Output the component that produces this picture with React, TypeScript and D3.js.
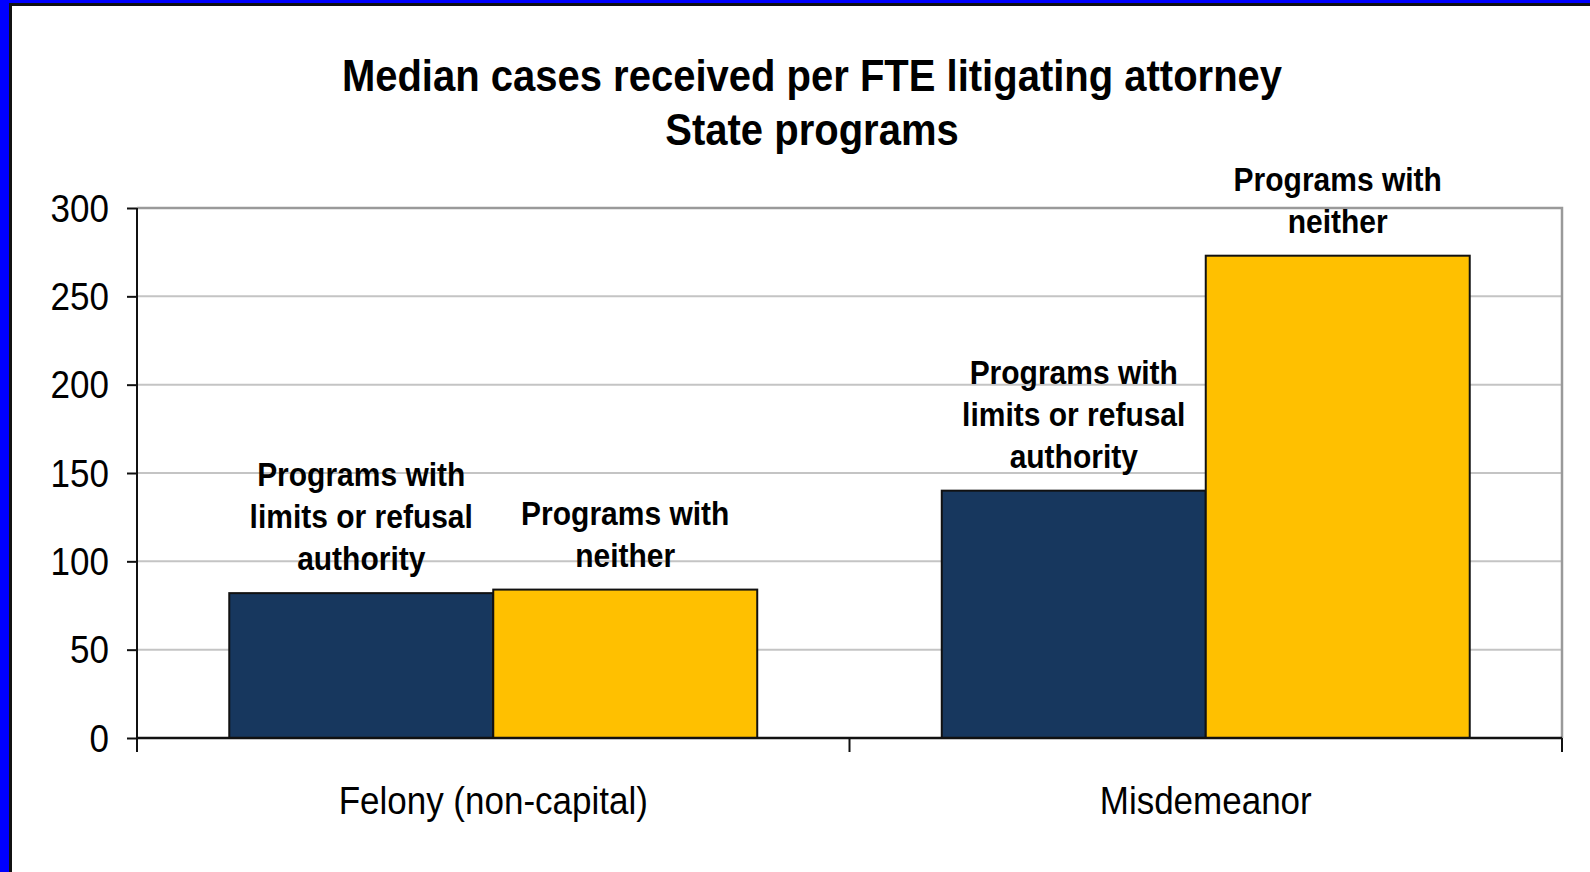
import React, { useEffect, useRef } from 'react';
import * as d3 from 'd3';

const categories = ['Felony (non-capital)', 'Misdemeanor'];
const seriesNames = ['limits', 'neither'];
const limitsValues = [82, 140];
const neitherValues = [84, 273];
const barLabels = [
    ['Programs with', 'limits or refusal', 'authority'],
    ['Programs with', 'neither']
];
const yTicks = [0, 50, 100, 150, 200, 250, 300];
const titleLines = ['Median cases received per FTE litigating  attorney', 'State programs'];

const colors = ['#17375e', '#ffc000'];

// the original picture is stretched vertically, so squeeze text horizontally
const STRETCH = 1.12;
const squeeze = (sel) => {
    sel.each(function () {
        const w = this.getComputedTextLength();
        d3.select(this).attr('textLength', w / STRETCH).attr('lengthAdjust', 'spacingAndGlyphs');
    });
};

export default function App() {
    const ref = useRef(null);

    useEffect(() => {
        if (!ref.current) return;
        d3.select(ref.current).selectAll('*').remove();

        const W = 1590, H = 872;
        const left = 137, right = 1562, top = 208, bottom = 738;

        const svg = d3.select(ref.current)
            .append('svg')
            .attr('width', W)
            .attr('height', H)
            .style('position', 'absolute')
            .style('left', 0)
            .style('top', 0)
            .style('font-family', "'Liberation Sans', Arial, sans-serif");

        svg.append('rect').attr('width', W).attr('height', H).attr('fill', '#fff');

        // frame (blue + dark line on left and top)
        svg.append('rect').attr('x', 0).attr('y', 0).attr('width', 9).attr('height', H).attr('fill', '#0000ff');
        svg.append('rect').attr('x', 0).attr('y', 0).attr('width', W).attr('height', 3).attr('fill', '#0000ff');
        svg.append('rect').attr('x', 9).attr('y', 3).attr('width', 3).attr('height', H).attr('fill', '#111');
        svg.append('rect').attr('x', 9).attr('y', 3).attr('width', W).attr('height', 3).attr('fill', '#111');

        // title
        svg.selectAll('.title')
            .data(titleLines)
            .enter().append('text')
            .attr('x', 812)
            .attr('y', (d, i) => 91 + i * 54)
            .attr('text-anchor', 'middle')
            .style('font-size', `${40 * STRETCH}px`)
            .style('font-weight', 'bold')
            .text(d => d)
            .call(squeeze);

        const x0 = d3.scaleBand().domain(categories).range([left, right]).paddingInner(0.259).paddingOuter(0.1295);
        const x1 = d3.scaleBand().domain(seriesNames).range([0, x0.bandwidth()]);
        const y = d3.scaleLinear().domain([0, 300]).range([bottom, top]);

        // gridlines
        svg.selectAll('.grid')
            .data(yTicks.filter(t => t > 0 && t < 300))
            .enter().append('line')
            .attr('x1', left).attr('x2', right)
            .attr('y1', d => y(d)).attr('y2', d => y(d))
            .attr('stroke', '#c4c4c4')
            .attr('stroke-width', 2);

        // plot area border (top + right)
        svg.append('path')
            .attr('d', `M${left},${y(300)}H${right}V${bottom}`)
            .attr('fill', 'none')
            .attr('stroke', '#9a9a9a')
            .attr('stroke-width', 2.5);

        // bars
        const data = categories.map((c, i) => ({ cat: c, vals: [limitsValues[i], neitherValues[i]] }));
        data.forEach(d => {
            d.vals.forEach((v, j) => {
                const bx = x0(d.cat) + x1(seriesNames[j]);
                svg.append('rect')
                    .attr('x', bx)
                    .attr('y', y(v))
                    .attr('width', x1.bandwidth())
                    .attr('height', y(0) - y(v))
                    .attr('fill', colors[j])
                    .attr('stroke', '#111')
                    .attr('stroke-width', 2);

                const lines = barLabels[j];
                svg.selectAll(null)
                    .data(lines)
                    .enter().append('text')
                    .attr('text-anchor', 'middle')
                    .style('font-size', `${30 * STRETCH}px`)
                    .style('font-weight', 'bold')
                    .attr('x', bx + x1.bandwidth() / 2)
                    .attr('y', (l, k) => y(v) - 23 - (lines.length - 1 - k) * 42)
                    .text(l => l)
                    .call(squeeze);
            });
        });

        // y axis
        const yAxis = svg.append('g')
            .attr('transform', `translate(${left},0)`)
            .call(d3.axisLeft(y).tickValues(yTicks).tickSize(10).tickPadding(18));
        yAxis.select('.domain').remove();
        yAxis.selectAll('.tick line').attr('stroke', '#111').attr('stroke-width', 2);
        yAxis.selectAll('.tick text')
            .attr('fill', '#000')
            .attr('dy', '0.34em')
            .style('font-size', `${35 * STRETCH}px`)
            .style('font-family', "'Liberation Sans', Arial, sans-serif")
            .call(squeeze);
        svg.append('line')
            .attr('x1', left).attr('x2', left)
            .attr('y1', top).attr('y2', bottom + 14)
            .attr('stroke', '#111').attr('stroke-width', 2);

        // x axis
        svg.append('line')
            .attr('x1', left).attr('x2', right)
            .attr('y1', bottom).attr('y2', bottom)
            .attr('stroke', '#111').attr('stroke-width', 2.5);
        const boundaries = [left, (x0(categories[0]) + x0.bandwidth() + x0(categories[1])) / 2, right];
        svg.selectAll('.xtick')
            .data(boundaries)
            .enter().append('line')
            .attr('x1', d => d).attr('x2', d => d)
            .attr('y1', bottom).attr('y2', bottom + 14)
            .attr('stroke', '#111').attr('stroke-width', 2);

        svg.selectAll('.xlabel')
            .data(categories)
            .enter().append('text')
            .attr('x', d => x0(d) + x0.bandwidth() / 2)
            .attr('y', 814)
            .attr('text-anchor', 'middle')
            .style('font-size', `${35 * STRETCH}px`)
            .text(d => d)
            .call(squeeze);
    }, []);

    return <div ref={ref}></div>;
}
